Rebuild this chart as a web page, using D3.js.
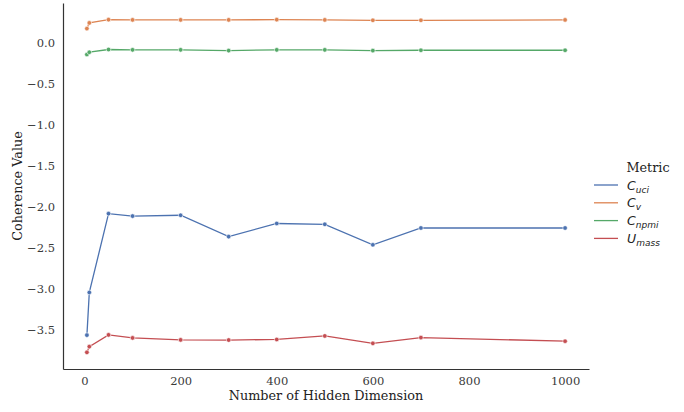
<!DOCTYPE html>
<html>
<head>
<meta charset="utf-8">
<script src="https://cdn.jsdelivr.net/npm/d3@7"></script>
<style>
  body { margin: 0; background: #fff; }
  text { font-family: "DejaVu Serif", serif; }
</style>
</head>
<body>
<div id="chart"></div>
<script>
// hidden dimension sizes
const dims = [5, 10, 50, 100, 200, 300, 400, 500, 600, 700, 1000];

// coherence values per metric
const cUci = [-3.56, -3.04, -2.08, -2.11, -2.10, -2.36, -2.20, -2.21, -2.46, -2.255, -2.255];
const cV = [0.174, 0.243, 0.283, 0.28, 0.28, 0.28, 0.283, 0.28, 0.275, 0.275, 0.28];
const cNpmi = [-0.142, -0.114, -0.081, -0.085, -0.085, -0.094, -0.085, -0.085, -0.094, -0.09, -0.09];
const uMass = [-3.77, -3.70, -3.557, -3.594, -3.618, -3.62, -3.613, -3.57, -3.66, -3.59, -3.634];

const xTicks = [0, 200, 400, 600, 800, 1000];
const yTicks = [0, -0.5, -1, -1.5, -2, -2.5, -3, -3.5];

const series = [
  { base: "C", sub: "uci", values: cUci, color: "#4c72b0" },
  { base: "C", sub: "v", values: cV, color: "#dd8452" },
  { base: "C", sub: "npmi", values: cNpmi, color: "#55a868" },
  { base: "U", sub: "mass", values: uMass, color: "#c44e52" }
];

const width = 684, height = 412;
const margin = { top: 3, right: 95, bottom: 43, left: 63 };

const svg = d3.select("#chart").append("svg")
  .attr("width", width)
  .attr("height", height);

// matplotlib-like 5% padding
const allY = series.flatMap(s => s.values);
const xPad = (d3.max(dims) - d3.min(dims)) * 0.05;
const yPad = (d3.max(allY) - d3.min(allY)) * 0.05;

const x = d3.scaleLinear()
  .domain([d3.min(dims) - xPad, d3.max(dims) + xPad])
  .range([margin.left, width - margin.right]);

const y = d3.scaleLinear()
  .domain([d3.min(allY) - yPad, d3.max(allY) + yPad])
  .range([height - margin.bottom, margin.top]);

const fmt = d => (d < 0 ? "\u2212" : "") + Math.abs(d).toFixed(1);

svg.append("g")
  .attr("transform", `translate(0,${height - margin.bottom})`)
  .call(d3.axisBottom(x).tickValues(xTicks).tickSize(0).tickPadding(8).tickFormat(d3.format("d")))
  .call(g => g.select(".domain").attr("stroke", "#333").attr("stroke-width", 1.2))
  .call(g => g.selectAll("text").attr("fill", "#3a3a3a").style("font-size", "11.5px"));

svg.append("g")
  .attr("transform", `translate(${margin.left},0)`)
  .call(d3.axisLeft(y).tickValues(yTicks).tickSize(0).tickPadding(8).tickFormat(fmt))
  .call(g => g.select(".domain").attr("stroke", "#333").attr("stroke-width", 1.2))
  .call(g => g.selectAll("text").attr("fill", "#3a3a3a").style("font-size", "11.5px"));

// axis titles
svg.append("text")
  .attr("x", (margin.left + width - margin.right) / 2)
  .attr("y", 400)
  .attr("text-anchor", "middle")
  .style("font-size", "12.8px")
  .attr("fill", "#222")
  .text("Number of Hidden Dimension");

svg.append("text")
  .attr("transform", `translate(22,${(margin.top + height - margin.bottom) / 2}) rotate(-90)`)
  .attr("text-anchor", "middle")
  .style("font-size", "12.8px")
  .attr("fill", "#222")
  .text("Coherence Value");

const line = d3.line()
  .x((d, i) => x(dims[i]))
  .y(d => y(d));

series.forEach(s => {
  svg.append("path")
    .datum(s.values)
    .attr("fill", "none")
    .attr("stroke", s.color)
    .attr("stroke-width", 1.3)
    .attr("d", line);

  svg.append("g")
    .selectAll("circle")
    .data(s.values)
    .join("circle")
    .attr("cx", (d, i) => x(dims[i]))
    .attr("cy", d => y(d))
    .attr("r", 2.3)
    .attr("fill", s.color)
    .attr("stroke", "#fff")
    .attr("stroke-width", 0.6);
});

// legend
const legend = svg.append("g").attr("transform", "translate(594,0)");
legend.append("text")
  .attr("x", 54)
  .attr("y", 172)
  .attr("text-anchor", "middle")
  .style("font-size", "12.8px")
  .attr("fill", "#222")
  .text("Metric");

const items = legend.selectAll("g.item")
  .data(series)
  .join("g")
  .attr("class", "item")
  .attr("transform", (d, i) => `translate(0,${185 + i * 17.8})`);

items.append("line")
  .attr("x1", 0).attr("x2", 24)
  .attr("stroke", d => d.color)
  .attr("stroke-width", 1.3);

const lbl = items.append("text")
  .attr("x", 33)
  .attr("y", 4.5)
  .style("font-family", "'DejaVu Sans', sans-serif")
  .style("font-style", "oblique")
  .style("font-size", "12.5px")
  .attr("fill", "#222");
lbl.append("tspan").text(d => d.base);
lbl.append("tspan")
  .attr("dy", 3)
  .style("font-size", "9px")
  .text(d => d.sub);
</script>
</body>
</html>
